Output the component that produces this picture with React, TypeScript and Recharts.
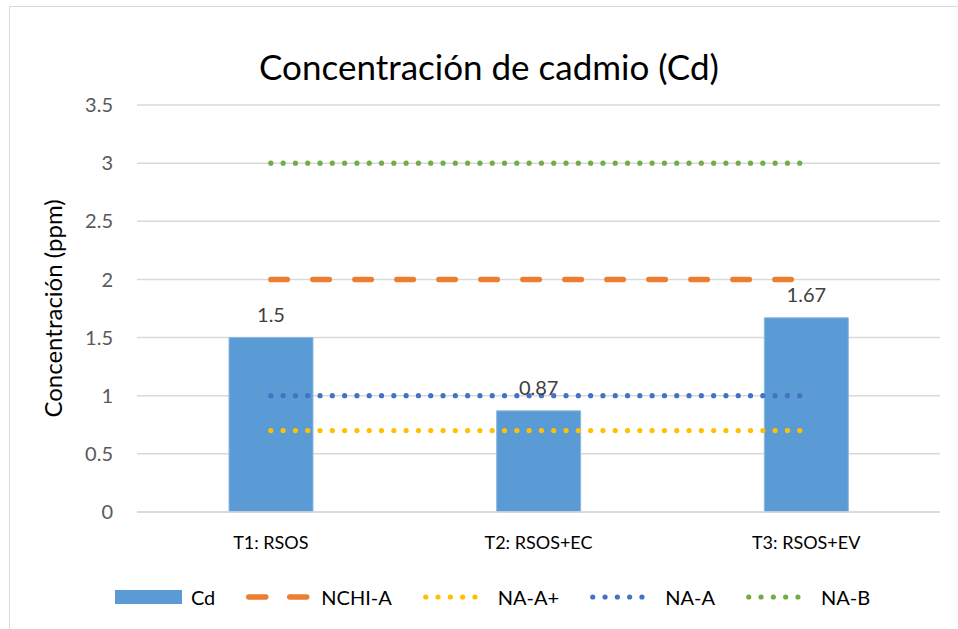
import React from "react";
import {
  ComposedChart,
  Bar,
  Line,
  XAxis,
  YAxis,
  CartesianGrid,
  Legend,
  LabelList,
} from "recharts";

const categories = ["T1: RSOS", "T2: RSOS+EC", "T3: RSOS+EV"];
const cd = [1.5, 0.87, 1.67];
const nchiA = [2, 2, 2];
const naAPlus = [0.7, 0.7, 0.7];
const naA = [1, 1, 1];
const naB = [3, 3, 3];
const yTicks = [0, 0.5, 1, 1.5, 2, 2.5, 3, 3.5];
const seriesOrder = ["Cd", "NCHI-A", "NA-A+", "NA-A", "NA-B"];

const data = categories.map((name, i) => ({
  name,
  Cd: cd[i],
  "NCHI-A": nchiA[i],
  "NA-A+": naAPlus[i],
  "NA-A": naA[i],
  "NA-B": naB[i],
}));

const FONT = "Lato, 'Open Sans', sans-serif";
const DOTS = "0 12.3";
const DASH = "16.5 25.5";

function LegendIcon({ entry }: { entry: any }) {
  const name = entry.value;
  if (name === "Cd") {
    return (
      <svg width={67} height={14}>
        <rect x={0} y={0} width={67} height={14} fill={entry.color} />
      </svg>
    );
  }
  const dashed = name === "NCHI-A";
  return (
    <svg width={66} height={14}>
      <line
        x1={2.75}
        x2={64}
        y1={7}
        y2={7}
        stroke={entry.color}
        strokeWidth={dashed ? 5.5 : 5.2}
        strokeLinecap="round"
        strokeDasharray={dashed ? "17 24" : DOTS}
      />
    </svg>
  );
}

function renderLegend(props: any) {
  const payload = [...(props.payload || [])].sort(
    (a: any, b: any) => seriesOrder.indexOf(a.value) - seriesOrder.indexOf(b.value)
  );
  return (
    <div
      style={{
        display: "flex",
        justifyContent: "center",
        alignItems: "center",
        height: 30,
        paddingLeft: 66,
        fontFamily: FONT,
        fontSize: 20,
        color: "#000",
      }}
    >
      {payload.map((entry: any) => (
        <div
          key={entry.value}
          style={{ display: "flex", alignItems: "center", marginRight: 31 }}
        >
          <LegendIcon entry={entry} />
          <span style={{ marginLeft: 9 }}>{entry.value}</span>
        </div>
      ))}
    </div>
  );
}

function YLabel(props: any) {
  const vb = props.viewBox || {};
  const x = vb.x + 42;
  const y = vb.y + vb.height / 2;
  return (
    <text
      x={x}
      y={y}
      transform={`rotate(-90 ${x} ${y})`}
      textAnchor="middle"
      dominantBaseline="central"
      fontFamily={FONT}
      fontSize={24}
      fill="#000"
    >
      Concentración (ppm)
    </text>
  );
}

export default function App() {
  return (
    <div
      style={{
        position: "absolute",
        left: 0,
        top: 0,
        width: 958,
        height: 629,
        background: "#fff",
        overflow: "hidden",
      }}
    >
      <div
        style={{
          position: "absolute",
          left: 9,
          top: 6,
          width: 1000,
          height: 700,
          borderTop: "1.5px solid #d9d9d9",
          borderLeft: "1.5px solid #d9d9d9",
        }}
      />
      <div
        style={{
          position: "absolute",
          left: 0,
          width: 978,
          top: 45,
          textAlign: "center",
          fontFamily: FONT,
          fontSize: 35,
          color: "#000",
        }}
      >
        Concentración de cadmio (Cd)
      </div>
      <div style={{ position: "absolute", left: 0, top: 0 }}>
        <ComposedChart
          width={958}
          height={629}
          data={data}
          margin={{ top: 105, right: 18, bottom: 17, left: 10 }}
        >
          <CartesianGrid
            vertical={false}
            stroke="#d9d9d9"
            strokeWidth={1.5}
          />
          <XAxis
            dataKey="name"
            axisLine={{ stroke: "#d9d9d9", strokeWidth: 1.5 }}
            tickLine={false}
            tickSize={0}
            tickMargin={24}
            height={70}
            tick={{ fill: "#000", fontSize: 18, fontFamily: FONT }}
          />
          <YAxis
            domain={[0, 3.5]}
            ticks={yTicks}
            width={127}
            axisLine={false}
            tickLine={false}
            tickSize={0}
            tickMargin={24}
            tick={{ fill: "#595959", fontSize: 20, fontFamily: FONT }}
            label={(p: any) => <YLabel {...p} />}
          />
          <Legend verticalAlign="bottom" content={renderLegend} />
          <Bar
            dataKey="Cd"
            fill="#5b9bd5"
            stroke="#8cb8e2"
            strokeWidth={1}
            barSize={84}
            isAnimationActive={false}
          >
            <LabelList
              dataKey="Cd"
              position="top"
              offset={16}
              fill="#404040"
              fontSize={20}
              fontFamily={FONT}
            />
          </Bar>
          <Line
            dataKey="NCHI-A"
            stroke="#ed7d31"
            strokeWidth={5.5}
            strokeLinecap="round"
            strokeDasharray={DASH}
            dot={false}
            activeDot={false}
            isAnimationActive={false}
          />
          <Line
            dataKey="NA-A+"
            stroke="#ffc000"
            strokeWidth={5.2}
            strokeLinecap="round"
            strokeDasharray={DOTS}
            dot={false}
            activeDot={false}
            isAnimationActive={false}
          />
          <Line
            dataKey="NA-A"
            stroke="#4472c4"
            strokeWidth={5.2}
            strokeLinecap="round"
            strokeDasharray={DOTS}
            dot={false}
            activeDot={false}
            isAnimationActive={false}
          />
          <Line
            dataKey="NA-B"
            stroke="#70ad47"
            strokeWidth={5.2}
            strokeLinecap="round"
            strokeDasharray={DOTS}
            dot={false}
            activeDot={false}
            isAnimationActive={false}
          />
        </ComposedChart>
      </div>
    </div>
  );
}
